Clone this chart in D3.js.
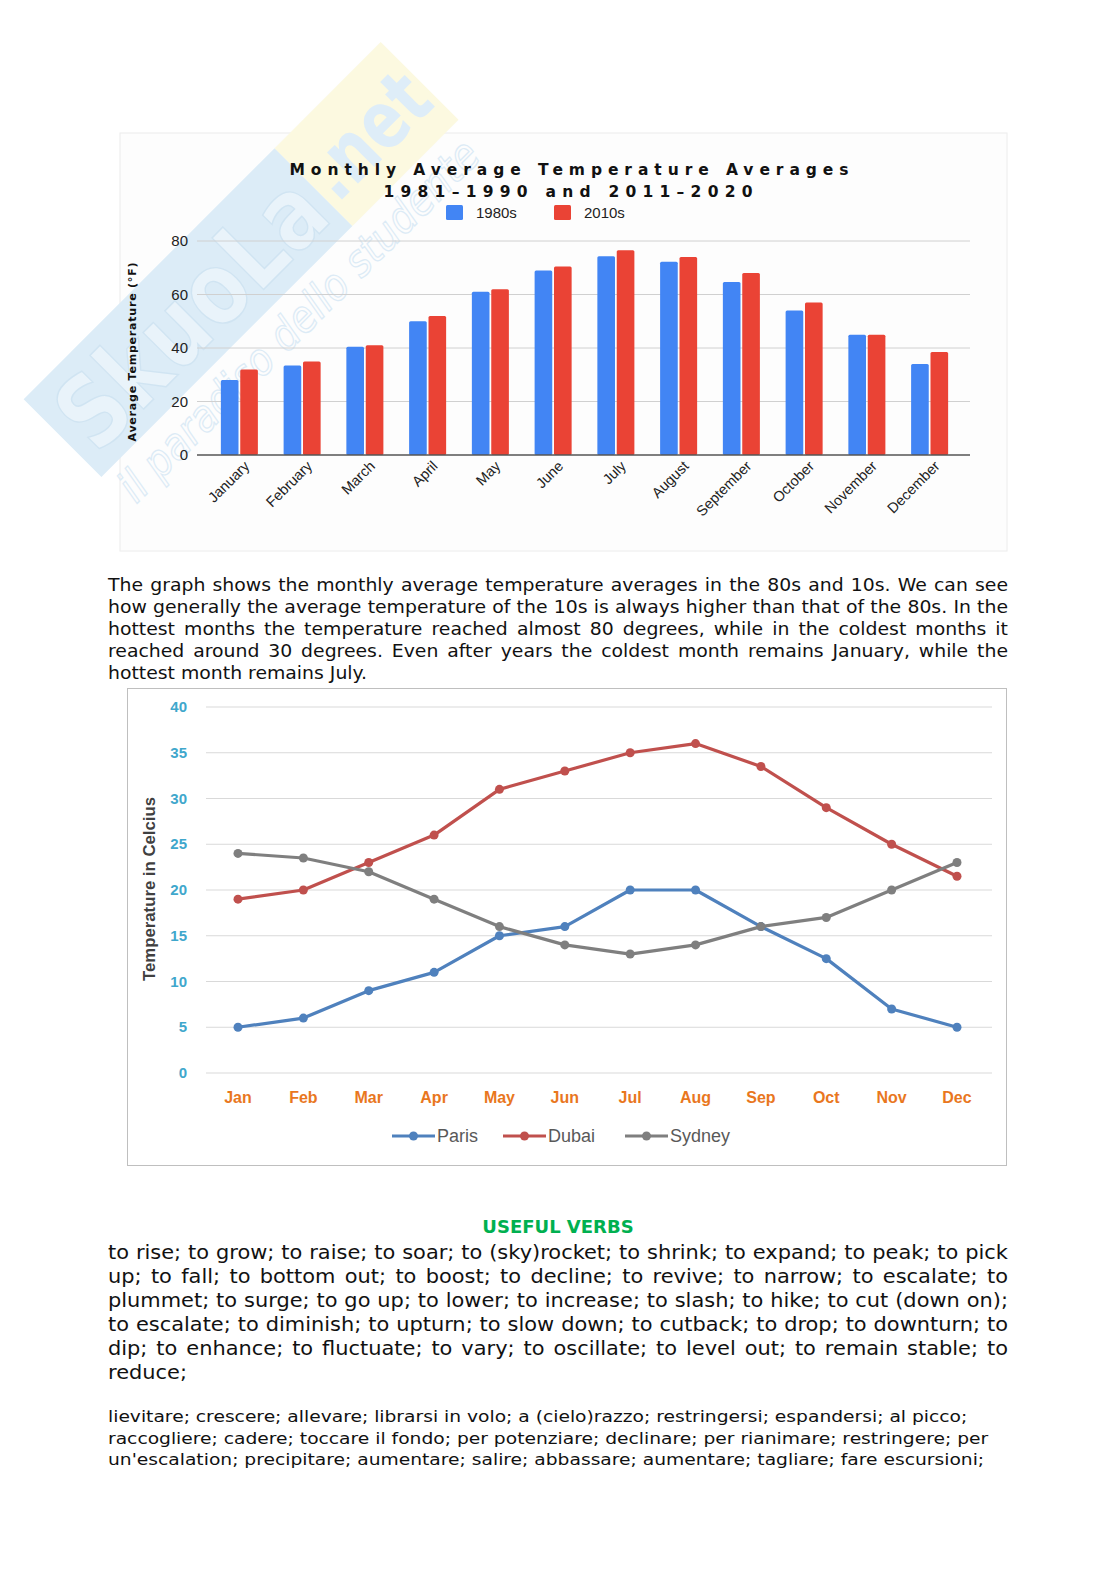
<!DOCTYPE html>
<html><head><meta charset="utf-8">
<script src="https://cdn.jsdelivr.net/npm/d3@7"></script>
<style>
body{margin:0;background:#fff;width:1116px;height:1579px;overflow:hidden;position:relative;font-family:"DejaVu Sans",sans-serif;}
svg{position:absolute;left:0;top:0;}
.ln{position:absolute;left:108px;white-space:nowrap;text-align:justify;text-align-last:justify;color:#111;transform-origin:0 0;}
.ln.last{text-align-last:left;}
.probe{position:absolute;left:0;top:-200px;white-space:nowrap;visibility:hidden;}
</style></head><body>
<svg id="page" width="1116" height="1579"></svg>
<div id="texts"></div>
<script>
// ---------- data ----------
const months = ["January","February","March","April","May","June","July","August","September","October","November","December"];
const series1980s = [28,33.5,40.5,50,61,69,74.3,72.2,64.7,54,45,34];
const series2010s = [32,35,41,52,62,70.5,76.5,74,68,57,45,38.5];
const barSeriesNames = ["1980s","2010s"];
const barTicks = [0,20,40,60,80];

const monthAbbr = ["Jan","Feb","Mar","Apr","May","Jun","Jul","Aug","Sep","Oct","Nov","Dec"];
const paris  = [5,6,9,11,15,16,20,20,16,12.5,7,5];
const dubai  = [19,20,23,26,31,33,35,36,33.5,29,25,21.5];
const sydney = [24,23.5,22,19,16,14,13,14,16,17,20,23];
const cityNames = ["Paris","Dubai","Sydney"];
const lineTicks = [0,5,10,15,20,25,30,35,40];

const paraLines = [
 "The graph shows the monthly average temperature averages in the 80s and 10s. We can see",
 "how generally the average temperature of the 10s is always higher than that of the 80s. In the",
 "hottest months the temperature reached almost 80 degrees, while in the coldest months it",
 "reached around 30 degrees. Even after years the coldest month remains January, while the",
 "hottest month remains July."
];
const verbLines = [
 "to rise; to grow; to raise; to soar; to (sky)rocket; to shrink; to expand; to peak; to pick",
 "up; to fall; to bottom out; to boost; to decline; to revive; to narrow; to escalate; to",
 "plummet; to surge; to go up; to lower; to increase; to slash; to hike; to cut (down on);",
 "to escalate; to diminish; to upturn; to slow down; to cutback; to drop; to downturn; to",
 "dip; to enhance; to fluctuate; to vary; to oscillate; to level out; to remain stable; to",
 "reduce;"
];
const italianLines = [
 "lievitare; crescere; allevare; librarsi in volo; a (cielo)razzo; restringersi; espandersi; al picco;",
 "raccogliere; cadere; toccare il fondo; per potenziare; declinare; per rianimare; restringere; per",
 "un'escalation; precipitare; aumentare; salire; abbassare; aumentare; tagliare; fare escursioni;"
];

const svg = d3.select("#page");

// ---------- bar chart frame ----------
svg.append("rect").attr("x",120).attr("y",133).attr("width",887).attr("height",418)
  .attr("fill","#fdfdfd").attr("stroke","#ececec");

// ---------- watermark (site logo overlaid on the scan) ----------
const wm = svg.append("g").attr("transform","translate(240,262) rotate(-45)");
wm.append("rect").attr("x",-250).attr("y",-56).attr("width",355).attr("height",110).attr("fill","#dcecf7");
wm.append("rect").attr("x",105).attr("y",-56).attr("width",150).attr("height",110).attr("fill","#fcf9e0");
wm.append("text").attr("x",-238).attr("y",36).attr("font-family","DejaVu Sans, sans-serif")
  .attr("font-weight","bold").attr("font-size",100).attr("textLength",335).attr("lengthAdjust","spacingAndGlyphs")
  .attr("fill","#e9f3fa").attr("stroke","#d0e4f2").attr("stroke-width",1.5).text("SkuoLa");
wm.append("text").attr("x",110).attr("y",28).attr("font-family","DejaVu Sans, sans-serif")
  .attr("font-weight","bold").attr("font-size",80).attr("textLength",140).attr("lengthAdjust","spacingAndGlyphs")
  .attr("fill","#deedf8").text(".net");
wm.append("text").attr("x",-245).attr("y",98).attr("font-family","DejaVu Sans, sans-serif")
  .attr("font-style","italic").attr("font-size",44).attr("textLength",490).attr("lengthAdjust","spacingAndGlyphs")
  .attr("fill","none").attr("stroke","#dcebf6").attr("stroke-width",1.3).text("il paradiso dello studente");

// ---------- bar chart ----------
const bc = svg.append("g");
const yB = d3.scaleLinear().domain([0,80]).range([455,241]);
const x0 = d3.scaleBand().domain(months).range([208,961]).paddingInner(0.41).paddingOuter(0.205);
const x1 = d3.scaleBand().domain(barSeriesNames).range([0,x0.bandwidth()]).paddingInner(0.09);
const barColor = d3.scaleOrdinal().domain(barSeriesNames).range(["#4285F4","#EA4335"]);

bc.append("g").selectAll("line").data(barTicks.filter(d=>d>0)).join("line")
  .attr("x1",197).attr("x2",970).attr("y1",d=>yB(d)).attr("y2",d=>yB(d))
  .attr("stroke","#d0d0d0").attr("stroke-width",1);
bc.append("g").selectAll("text").data(barTicks).join("text")
  .attr("x",188).attr("y",d=>yB(d)+5).attr("text-anchor","end")
  .attr("font-family","Liberation Sans, Arial, sans-serif").attr("font-size",15).attr("fill","#222")
  .text(d=>d);
const groups = bc.append("g").selectAll("g").data(months).join("g")
  .attr("transform",d=>`translate(${x0(d)},0)`);
groups.selectAll("rect").data((d,i)=>[{k:"1980s",v:series1980s[i]},{k:"2010s",v:series2010s[i]}]).join("rect")
  .attr("x",d=>x1(d.k)).attr("width",x1.bandwidth())
  .attr("y",d=>yB(d.v)).attr("height",d=>yB(0)-yB(d.v))
  .attr("rx",1.5).attr("fill",d=>barColor(d.k));
bc.append("line").attr("x1",197).attr("x2",970).attr("y1",yB(0)).attr("y2",yB(0))
  .attr("stroke","#555").attr("stroke-width",1.5);
bc.append("g").selectAll("text").data(months).join("text")
  .attr("transform",d=>`translate(${x0(d)+x0.bandwidth()/2+11},${467}) rotate(-45)`)
  .attr("text-anchor","end")
  .attr("font-family","Liberation Sans, Arial, sans-serif").attr("font-size",14.5).attr("fill","#222")
  .text(d=>d);
bc.append("text").attr("x",569).attr("y",175).attr("text-anchor","middle")
  .attr("font-family","DejaVu Sans, sans-serif").attr("font-weight","bold").attr("font-size",15.5)
  .attr("textLength",559).attr("lengthAdjust","spacing").attr("fill","#111")
  .text("Monthly Average Temperature Averages");
bc.append("text").attr("x",568).attr("y",197).attr("text-anchor","middle")
  .attr("font-family","DejaVu Sans, sans-serif").attr("font-weight","bold").attr("font-size",15.5)
  .attr("textLength",369).attr("lengthAdjust","spacing").attr("fill","#111")
  .text("1981\u20131990 and 2011\u20132020");
const legB = bc.append("g").selectAll("g").data(barSeriesNames).join("g")
  .attr("transform",(d,i)=>`translate(${446+i*108},205)`);
legB.append("rect").attr("width",17).attr("height",15).attr("rx",1.5).attr("fill",d=>barColor(d));
legB.append("text").attr("x",30).attr("y",13)
  .attr("font-family","Liberation Sans, Arial, sans-serif").attr("font-size",15).attr("fill","#222").text(d=>d);
bc.append("text").attr("transform","translate(136,352) rotate(-90)").attr("text-anchor","middle")
  .attr("font-family","DejaVu Sans, sans-serif").attr("font-weight","bold").attr("font-size",11)
  .attr("textLength",179).attr("lengthAdjust","spacing").attr("fill","#111")
  .text("Average Temperature (\u00B0F)");

// ---------- line chart ----------
svg.append("rect").attr("x",127.5).attr("y",688.5).attr("width",879).attr("height",477)
  .attr("fill","#fff").attr("stroke","#bfbfbf");
const lc = svg.append("g");
const yL = d3.scaleLinear().domain([0,40]).range([1073,707]);
const xL = d3.scalePoint().domain(monthAbbr).range([238,957]);
lc.append("g").selectAll("line").data(lineTicks).join("line")
  .attr("x1",206).attr("x2",992).attr("y1",d=>yL(d)).attr("y2",d=>yL(d))
  .attr("stroke","#d9d9d9").attr("stroke-width",1);
lc.append("g").selectAll("text").data(lineTicks).join("text")
  .attr("x",187).attr("y",d=>yL(d)+5).attr("text-anchor","end")
  .attr("font-family","Liberation Sans Narrow, Liberation Sans, Arial, sans-serif").attr("font-weight","bold")
  .attr("font-size",15).attr("fill","#3fa7cc").text(d=>d);
lc.append("g").selectAll("text").data(monthAbbr).join("text")
  .attr("x",d=>xL(d)).attr("y",1103).attr("text-anchor","middle")
  .attr("font-family","Liberation Sans Narrow, Liberation Sans, Arial, sans-serif").attr("font-weight","bold")
  .attr("font-size",16).attr("fill","#e9771e").text(d=>d);
lc.append("text").attr("transform","translate(155,889) rotate(-90)").attr("text-anchor","middle")
  .attr("font-family","Liberation Sans Narrow, Liberation Sans, Arial, sans-serif").attr("font-weight","bold")
  .attr("font-size",17).attr("textLength",184).attr("lengthAdjust","spacingAndGlyphs").attr("fill","#404040")
  .text("Temperature in Celcius");
const cityData = [paris,dubai,sydney];
const cityColor = d3.scaleOrdinal().domain(cityNames).range(["#4F81BD","#C0504D","#7F7F7F"]);
const line = d3.line().x((d,i)=>xL(monthAbbr[i])).y(d=>yL(d));
cityNames.forEach((c,ci)=>{
  lc.append("path").datum(cityData[ci]).attr("d",line).attr("fill","none")
    .attr("stroke",cityColor(c)).attr("stroke-width",3.2).attr("stroke-linejoin","round");
  lc.append("g").selectAll("circle").data(cityData[ci]).join("circle")
    .attr("cx",(d,i)=>xL(monthAbbr[i])).attr("cy",d=>yL(d)).attr("r",4.5).attr("fill",cityColor(c));
});
const legX = [392,503,625];
const legL = lc.append("g").selectAll("g").data(cityNames).join("g")
  .attr("transform",(d,i)=>`translate(${legX[i]},1136)`);
legL.append("line").attr("x1",0).attr("x2",43).attr("stroke",d=>cityColor(d)).attr("stroke-width",3.2);
legL.append("circle").attr("cx",21.5).attr("r",4.5).attr("fill",d=>cityColor(d));
legL.append("text").attr("x",45).attr("y",6)
  .attr("font-family","Liberation Sans Narrow, Liberation Sans, Arial, sans-serif")
  .attr("font-size",18).attr("fill","#595959").text(d=>d);

// ---------- text blocks ----------
const T = d3.select("#texts");
function natural(t,size){
  const p = T.append("span").attr("class","probe").style("font-size",size+"px").text(t);
  const w = p.node().getBoundingClientRect().width; p.remove(); return w;
}
function addBlock(lines, centers, size, opts){
  const W = opts.width;
  let s;
  if(opts.justify){
    s = d3.min(lines.slice(0,-1), t => (W-4)/natural(t,size));
    s = Math.min(s, opts.maxScale);
  } else s = opts.scale;
  lines.forEach((t,i)=>{
    const lh = size*1.2;
    const last = !opts.justify || i===lines.length-1;
    T.append("div").attr("class","ln"+(last?" last":""))
      .style("width",(W/s)+"px")
      .style("top",(centers[i]-lh/2)+"px").style("font-size",size+"px").style("line-height",lh+"px")
      .style("transform",`scaleX(${s})`)
      .text(t);
  });
}
addBlock(paraLines,[585,607,629.5,651,673],17.2,{width:900,justify:true,maxScale:1.15});
T.append("div").style("position","absolute").style("left","0").style("width","1116px")
  .style("top","1216px").style("text-align","center").style("font-weight","bold")
  .style("font-size","18px").style("color","#00b050").text("USEFUL VERBS");
addBlock(verbLines,[1253,1277,1301,1325,1349,1373],19.3,{width:900,justify:true,maxScale:1.15});
addBlock(italianLines,[1417,1438.5,1460],16.3,{width:900,justify:false,scale:1.147});
</script>
</body></html>
